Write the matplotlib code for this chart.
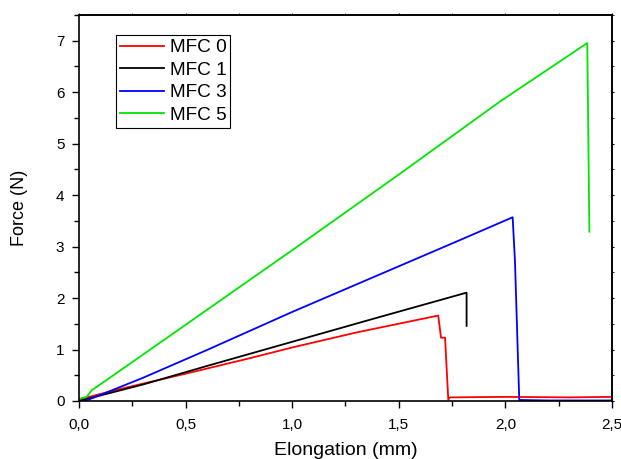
import numpy as np
from matplotlib import pyplot as plt
from matplotlib.ticker import MultipleLocator, FuncFormatter

plt.rcParams["font.family"] = ["Liberation Sans", "DejaVu Sans"]

#  -------------------------------------------  data  ------------------------------------------  #

mfc0_x = [0.0, 0.2, 0.5, 0.8, 1.0, 1.3, 1.685, 1.698, 1.717, 1.732, 1.74, 2.0, 2.3, 2.5]
mfc0_y = [0.03, 0.24, 0.53, 0.83, 1.04, 1.33, 1.66, 1.23, 1.23, 0.03, 0.07, 0.08, 0.07, 0.08]

mfc1_x = [0.0, 0.3, 0.6, 1.0, 1.4, 1.818, 1.818]
mfc1_y = [0.0, 0.32, 0.68, 1.15, 1.62, 2.105, 1.46]

mfc3_x = [0.0, 0.03, 0.3, 0.6, 1.0, 1.4, 1.8, 2.034, 2.045, 2.065, 2.2, 2.5]
mfc3_y = [0.0, 0.0, 0.45, 0.99, 1.73, 2.44, 3.15, 3.57, 2.71, 0.02, 0.01, 0.01]

mfc5_x = [0.0, 0.036, 0.06, 0.113, 0.5, 1.0, 1.5, 1.975, 2.256, 2.384, 2.394]
mfc5_y = [0.04, 0.08, 0.21, 0.36, 1.48, 2.93, 4.40, 5.82, 6.60, 6.955, 3.29]

#  -------------------------------------------  plot  ------------------------------------------  #

fig = plt.figure(figsize=(6.21, 4.59), dpi=100)
ax = fig.add_axes([0.1272, 0.1264, 0.8583, 0.8409])

lw = 1.3
ax.plot(mfc0_x, mfc0_y, color="#ff0000", lw=lw, label="MFC 0")
ax.plot(mfc1_x, mfc1_y, color="#000000", lw=lw, label="MFC 1")
ax.plot(mfc3_x, mfc3_y, color="#0000ff", lw=lw, label="MFC 3")
ax.plot(mfc5_x, mfc5_y, color="#00e600", lw=lw, label="MFC 5")

ax.set_xlim(0, 2.5)
ax.set_ylim(0, 7.5)
ax.xaxis.set_major_locator(MultipleLocator(0.5))
ax.xaxis.set_minor_locator(MultipleLocator(0.25))
ax.yaxis.set_major_locator(MultipleLocator(1))
ax.yaxis.set_minor_locator(MultipleLocator(0.5))
ax.xaxis.set_major_formatter(FuncFormatter(lambda v, p: f"{v:.1f}".replace(".", ",")))

ax.tick_params(which="both", direction="out", labelsize=11, width=1.0)
ax.tick_params(which="major", length=5)
ax.tick_params(which="minor", length=3.5)
ax.tick_params(axis="x", which="major", pad=7)
ax.tick_params(axis="y", which="major", pad=5.5)
for s in ax.spines.values():
    s.set_linewidth(1.2)

# tiny mirrored ticks on top and right
top = ax.secondary_xaxis("top")
top.xaxis.set_major_locator(MultipleLocator(0.5))
top.xaxis.set_minor_locator(MultipleLocator(0.25))
top.tick_params(which="both", length=1.5, labeltop=False)
right = ax.secondary_yaxis("right")
right.yaxis.set_major_locator(MultipleLocator(1))
right.yaxis.set_minor_locator(MultipleLocator(0.5))
right.tick_params(which="both", length=1.5, labelright=False)
top.spines["top"].set_linewidth(1.2)
right.spines["right"].set_linewidth(1.2)

ax.set_xlabel("Elongation (mm)", fontsize=14, va="baseline")
ax.xaxis.set_label_coords(0.5, -0.14)
ax.set_ylabel("Force (N)", fontsize=13, va="center")
ax.yaxis.set_label_coords(-0.111, 0.5)

leg = ax.legend(loc="upper left", bbox_to_anchor=(0.07, 0.948), fontsize=13.7,
                handlelength=2.3, handletextpad=0.3, labelspacing=0.28,
                borderpad=0.2, borderaxespad=0, fancybox=False, framealpha=1)
leg.get_frame().set_edgecolor("black")
leg.get_frame().set_linewidth(0.8)

plt.savefig("out.png", dpi=100)
